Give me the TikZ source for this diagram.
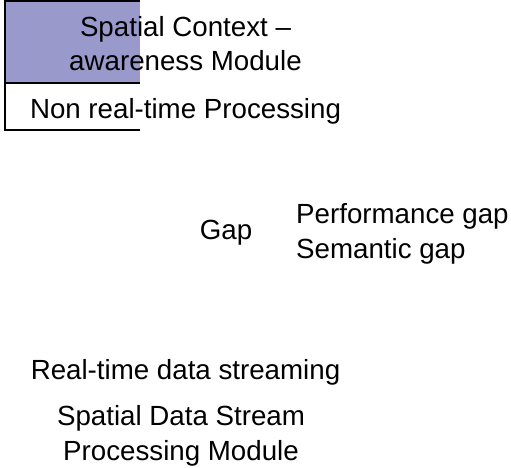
\documentclass[tikz,border=0pt]{standalone}
\usepackage{fontspec}
\setmainfont{Liberation Sans}
\usepackage{xcolor}
\usetikzlibrary{positioning}
\definecolor{ctxpurple}{RGB}{153,153,204}

\begin{document}
\begin{tikzpicture}[x=1pt, y=-1pt, node distance=44pt, font=\fontsize{27.7}{34.5}\selectfont]
    \tikzstyle{caption}=[inner sep=0pt, align=center]
    \tikzstyle{edge}=[line width=2pt]
    \useasboundingbox (0,0) rectangle (511,468);

    % module box (right side left open)
    \fill[ctxpurple] (5,1) rectangle (140,83.5);
    \draw[edge] (140,1) -| (5,130.5) -- (140,130.5);
    \draw[edge] (5,83.5) -- (140,83.5);

    % base of a two-line caption is its last line
    \node[caption, anchor=base] (ctx) at (185.5,71) {Spatial Context –\\awareness Module};
    \node[caption, anchor=base] (nonrt) at (185.5,119) {Non real-time Processing};

    \node[caption, anchor=base] (gap) at (226,239) {Gap};
    \node[caption, align=left, anchor=base west] (gaps) at (296,258) {Performance gap\\Semantic gap};

    \node[caption, anchor=base] (rt) at (185.5,379) {Real-time data streaming};
    \node[caption, anchor=base] (stream) at (181,460) {Spatial Data Stream\\Processing Module};
  \end{tikzpicture}
\end{document}
